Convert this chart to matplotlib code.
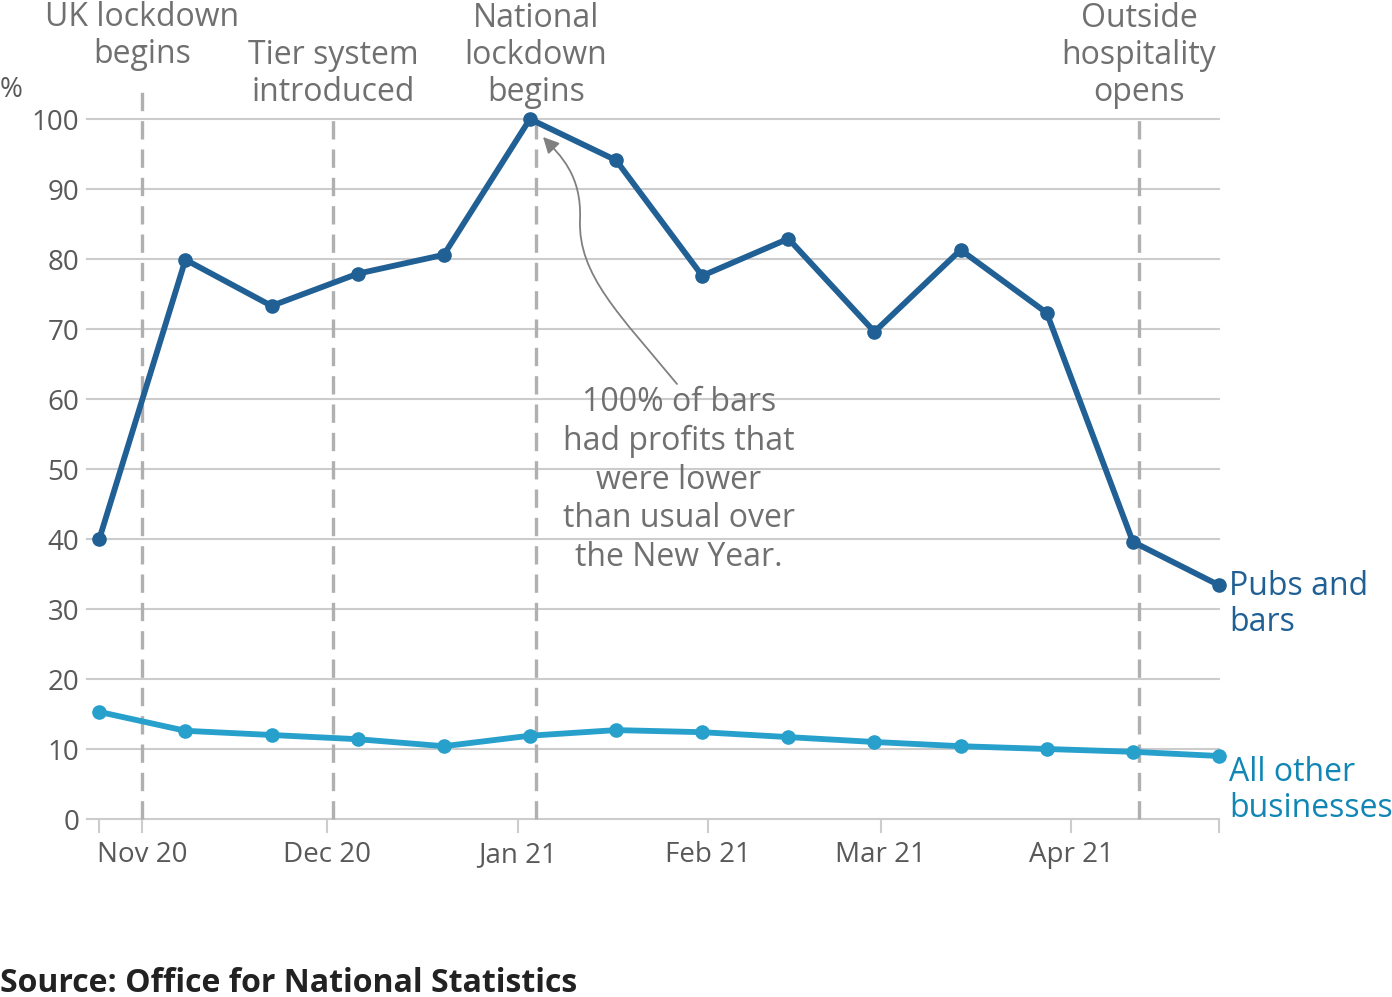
import pandas as pd
import matplotlib.pyplot as plt
from matplotlib.path import Path
from matplotlib.patches import FancyArrowPatch

plt.rcParams['font.family'] = ['Open Sans', 'DejaVu Sans']

# fortnightly survey dates
dates = pd.to_datetime(['2020-10-25', '2020-11-08', '2020-11-22', '2020-12-06',
                        '2020-12-20', '2021-01-03', '2021-01-17', '2021-01-31',
                        '2021-02-14', '2021-02-28', '2021-03-14', '2021-03-28',
                        '2021-04-11', '2021-04-25'])
pubs = [40.0, 79.9, 73.3, 77.9, 80.6, 100.0, 94.1, 77.6, 82.9, 69.6, 81.3, 72.3, 39.6, 33.4]
others = [15.3, 12.6, 12.0, 11.4, 10.4, 11.9, 12.7, 12.4, 11.7, 11.0, 10.4, 10.0, 9.6, 9.0]

events = pd.to_datetime(['2020-11-01', '2020-12-02', '2021-01-04', '2021-04-12'])
event_labels = ['UK lockdown\nbegins', 'Tier system\nintroduced',
                'National\nlockdown\nbegins', 'Outside\nhospitality\nopens']

tick_dates = pd.to_datetime(['2020-11-01', '2020-12-01', '2021-01-01',
                             '2021-02-01', '2021-03-01', '2021-04-01'])
tick_labels = ['Nov 20', 'Dec 20', 'Jan 21', 'Feb 21', 'Mar 21', 'Apr 21']

dark = '#206095'
light = '#27a0cc'
grey_txt = '#707070'

fig = plt.figure(figsize=(13.92, 9.97), dpi=100)
ax = fig.add_axes([87/1392, 178/997, 1132/1392, 700/997])

ax.set_xlim(pd.Timestamp('2020-10-23'), pd.Timestamp('2021-04-25'))
ax.set_ylim(0, 100)

for y in range(0, 101, 10):
    ax.axhline(y, color='#cccccc', lw=1.5, zorder=1, clip_on=False)

# event lines + labels
for d, lab in zip(events, event_labels):
    uk = lab.startswith('UK')
    ax.plot([d, d], [0, 105.1 if uk else 100], color='#b0b0b0', lw=2.4,
            dashes=(5.5, 3.0), zorder=2, clip_on=False)
    ax.text(d, 106.8 if uk else 101.4, lab, ha='center', va='bottom', fontsize=23,
            color=grey_txt, linespacing=1.17)

ax.plot(dates, others, color=light, lw=4.2, marker='o', ms=9.5, zorder=3, clip_on=False)
ax.plot(dates, pubs, color=dark, lw=4.2, marker='o', ms=9.5, zorder=4, clip_on=False)

lab_x = dates[-1] + pd.Timedelta(days=1.7)
ax.text(lab_x, pubs[-1] - 2.7, 'Pubs and\nbars', color=dark,
        fontsize=23, va='center', ha='left', linespacing=1.12)
ax.text(lab_x, others[-1] - 4.9, 'All other\nbusinesses',
        color='#1186b5', fontsize=23, va='center', ha='left', linespacing=1.12)

# annotation
ax.text(pd.Timestamp('2021-01-27 05:00'), 61.8,
        '100% of bars\nhad profits that\nwere lower\nthan usual over\nthe New Year.',
        ha='center', va='top', fontsize=23, color=grey_txt, linespacing=1.22)


def fp(px, py):
    return (px / 1392, 1 - py / 997)


verts = [fp(677, 384), fp(620, 315), fp(578, 275), fp(580, 220),
         fp(582, 175), fp(560, 155), fp(543, 137)]
codes = [Path.MOVETO] + [Path.CURVE4] * 6
arrow = FancyArrowPatch(path=Path(verts, codes), arrowstyle='-|>', color='#808080',
                        lw=1.3, mutation_scale=24, transform=fig.transFigure, zorder=5)
fig.add_artist(arrow)

for s in ax.spines.values():
    s.set_visible(False)

ax.set_yticks(range(0, 101, 10))
ax.tick_params(axis='y', length=0, pad=5.5, labelsize=20, labelcolor='#595959')
ax.set_xticks(list(tick_dates) + [pd.Timestamp('2020-10-25'), pd.Timestamp('2021-04-25')])
ax.set_xticklabels(tick_labels + ['', ''])
ax.tick_params(axis='x', length=10, width=1.5, color='#cccccc', pad=6,
               labelsize=20, labelcolor='#595959')

fig.text(0, 1 - 90/997, '%', fontsize=20, color='#595959', va='center', ha='left')
fig.text(0, 1 - 983/997, 'Source: Office for National Statistics', fontsize=23,
         fontweight='bold', color='#222222', va='center', ha='left')

fig.savefig('out.png', dpi=100)
